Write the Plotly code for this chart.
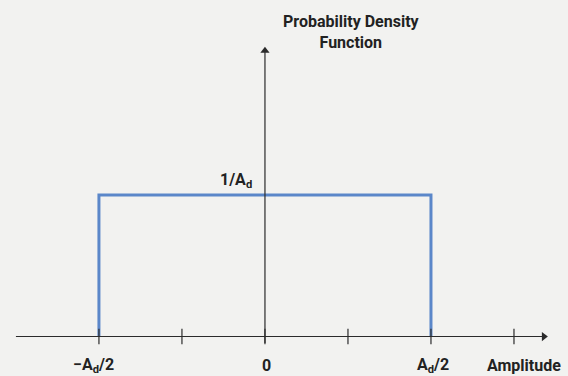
import plotly.graph_objects as go

# Data (amplitude in units of A_d, density in units of 1/A_d)
pdf_x = [-0.5, -0.5, 0.5, 0.5]
pdf_y = [0, 1, 1, 0]
tick_values = [-0.5, -0.25, 0, 0.25, 0.5, 0.75]
tick_labels = {-0.5: "−A<sub>d</sub>/2", 0: "0", 0.5: "A<sub>d</sub>/2"}
y_label_value = 1
y_label_text = "1/A<sub>d</sub>"
x_title = "Amplitude"
y_title = "Probability Density<br>Function"
x_axis_span = [-0.75, 0.84]
y_axis_span = [-0.045, 2.02]

FONT = "Roboto, sans-serif"
AX = "#2b2b2b"
BLUE = "#5b87c9"
BG = "#f2f2f0"

fig = go.Figure()

fig.add_trace(go.Scatter(
    x=pdf_x, y=pdf_y, mode="lines",
    line=dict(color=BLUE, width=3), hoverinfo="skip", showlegend=False,
))

# axis lines
fig.add_trace(go.Scatter(
    x=x_axis_span, y=[0, 0], mode="lines", line=dict(color=AX, width=1.2),
    hoverinfo="skip", showlegend=False,
))
fig.add_trace(go.Scatter(
    x=[0, 0], y=y_axis_span, mode="lines", line=dict(color=AX, width=1.2),
    hoverinfo="skip", showlegend=False,
))
# arrow heads
fig.add_trace(go.Scatter(
    x=[x_axis_span[1], 0], y=[0, y_axis_span[1]], mode="markers",
    marker=dict(symbol=["triangle-right", "triangle-up"], size=8, color=AX,
                line=dict(width=0)),
    hoverinfo="skip", showlegend=False,
))

# tick marks
fig.add_trace(go.Scatter(
    x=tick_values, y=[0] * len(tick_values), mode="markers",
    marker=dict(symbol="line-ns", size=11, line=dict(color=AX, width=1.2)),
    hoverinfo="skip", showlegend=False,
))

annotations = []
lab_font = dict(family=FONT, size=16, color="#222")
for v, t in tick_labels.items():
    annotations.append(dict(
        x=v, y=0, xref="x", yref="y", text="<b>%s</b>" % t, showarrow=False,
        xanchor="center", yanchor="middle", yshift=-29,
        xshift=-5 if v < 0 else 2, font=lab_font,
    ))
annotations.append(dict(
    x=tick_values[-1], y=0, xref="x", yref="y", text="<b>%s</b>" % x_title,
    showarrow=False, xanchor="center", yanchor="middle", yshift=-29, xshift=10,
    font=lab_font,
))
annotations.append(dict(
    x=0, y=y_label_value, xref="x", yref="y", text="<b>%s</b>" % y_label_text,
    showarrow=False, xanchor="right", yanchor="middle", xshift=-11, yshift=15,
    font=lab_font,
))
annotations.append(dict(
    x=0, y=2.378, xref="x", yref="y", text="<b>%s</b>" % y_title,
    showarrow=False, xanchor="center", yanchor="top", xshift=87, yshift=-10,
    font=lab_font,
))

fig.update_layout(
    width=568, height=376, margin=dict(l=0, r=0, t=0, b=0),
    paper_bgcolor=BG, plot_bgcolor=BG,
    xaxis=dict(range=[-0.798, 0.9127], visible=False, fixedrange=True),
    yaxis=dict(range=[-0.279, 2.378], visible=False, fixedrange=True),
    annotations=annotations, showlegend=False,
)

fig.write_html("out.html")
